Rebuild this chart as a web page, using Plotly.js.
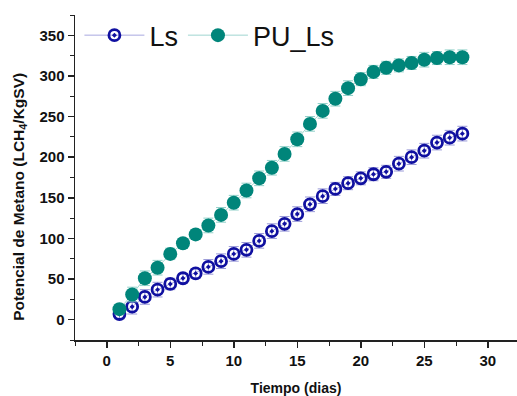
<!DOCTYPE html>
<html>
<head>
<meta charset="utf-8">
<script src="https://cdn.plot.ly/plotly-3.0.1.min.js"></script>
<style>html,body{margin:0;padding:0;background:#fff;}#chart{width:517px;height:396px;}</style>
</head>
<body>
<div id="chart"></div>
<script>
var days = [1,2,3,4,5,6,7,8,9,10,11,12,13,14,15,16,17,18,19,20,21,22,23,24,25,26,27,28];
var lsValues = [7,16,28,37,44,51,57,65,72,81,86,97,109,118,130,142,152,161,168,174,179,182,192,200,208,218,224,229];
var lsErrors = [6,9,9,9,7,6,6,9,9,9,9,9,9,9,9,9,9,8,8,8,8,8,9,9,9,9,9,9];
var puValues = [13,31,51,64,81,94,105,116,129,144,159,174,187,204,222,241,257,272,285,296,305,310,313,316,320,322,323,323];
var puErrors = [6,9,9,9,7,6,6,9,9,9,9,9,9,9,9,9,9,9,9,8,8,8,8,8,9,8,9,9];
var xTicks = [0,5,10,15,20,25,30];
var yTicks = [0,50,100,150,200,250,300,350];

var FONT = 'Liberation Sans, Arial, sans-serif';
var traces = [
  {
    x: days, y: lsValues, name: 'Ls', type: 'scatter', mode: 'lines+markers',
    line: {color: '#a9a9e0', width: 1},
    marker: {symbol: 'circle-open-dot', size: 11, color: '#1010a0', line: {width: 2.8, color: '#1010a0'}},
    error_y: {type: 'data', array: lsErrors, visible: true, color: '#9a9ad8', thickness: 1, width: 5}
  },
  {
    x: days, y: puValues, name: 'PU_Ls', type: 'scatter', mode: 'lines+markers',
    line: {color: '#9fd6d0', width: 1},
    marker: {symbol: 'circle', size: 14, color: '#00857a'},
    error_y: {type: 'data', array: puErrors, visible: true, color: '#8fd0c8', thickness: 1, width: 5}
  }
];

var layout = {
  width: 517, height: 396,
  margin: {l: 75, r: 0, t: 15, b: 56},
  paper_bgcolor: '#fff', plot_bgcolor: '#fff',
  showlegend: true,
  legend: {orientation: 'h', x: 0.01, y: 1.012, xanchor: 'left', yanchor: 'top',
           font: {family: FONT, size: 27, color: '#111'},
           itemwidth: 60, bgcolor: 'rgba(0,0,0,0)', tracegroupgap: 0},
  xaxis: {
    range: [-2.5, 32.3], tickvals: xTicks, ticktext: xTicks.map(String),
    showgrid: false, zeroline: false, showline: true, linecolor: '#222', linewidth: 1.5,
    ticks: 'outside', ticklen: 6, tickwidth: 1.5, tickcolor: '#222',
    minor: {dtick: 2.5, tick0: 0, ticks: 'outside', ticklen: 4, tickwidth: 1, tickcolor: '#222', showgrid: false},
    tickfont: {family: FONT, size: 15, color: '#111', weight: 'bold'},
    title: {text: '<b>Tiempo (dias)</b>', font: {family: FONT, size: 14, color: '#111'}, standoff: 21}
  },
  yaxis: {
    range: [-25, 375], tickvals: yTicks, ticktext: yTicks.map(String),
    showgrid: false, zeroline: false, showline: true, linecolor: '#222', linewidth: 1.5,
    ticks: 'outside', ticklen: 6, tickwidth: 1.5, tickcolor: '#222',
    minor: {dtick: 25, tick0: 0, ticks: 'outside', ticklen: 4, tickwidth: 1, tickcolor: '#222', showgrid: false},
    tickfont: {family: FONT, size: 15, color: '#111', weight: 'bold'},
    title: {text: ''}
  },
  annotations: [{
    text: '<b>Potencial de Metano (LCH<sub>4</sub>/KgSV)</b>',
    xref: 'paper', yref: 'paper', x: -0.127, y: 0.44, textangle: -90,
    showarrow: false, xanchor: 'center', yanchor: 'middle',
    font: {family: FONT, size: 15.5, color: '#111'}
  }]
};

Plotly.newPlot('chart', traces, layout, {displayModeBar: false, staticPlot: true});
</script>
</body>
</html>
